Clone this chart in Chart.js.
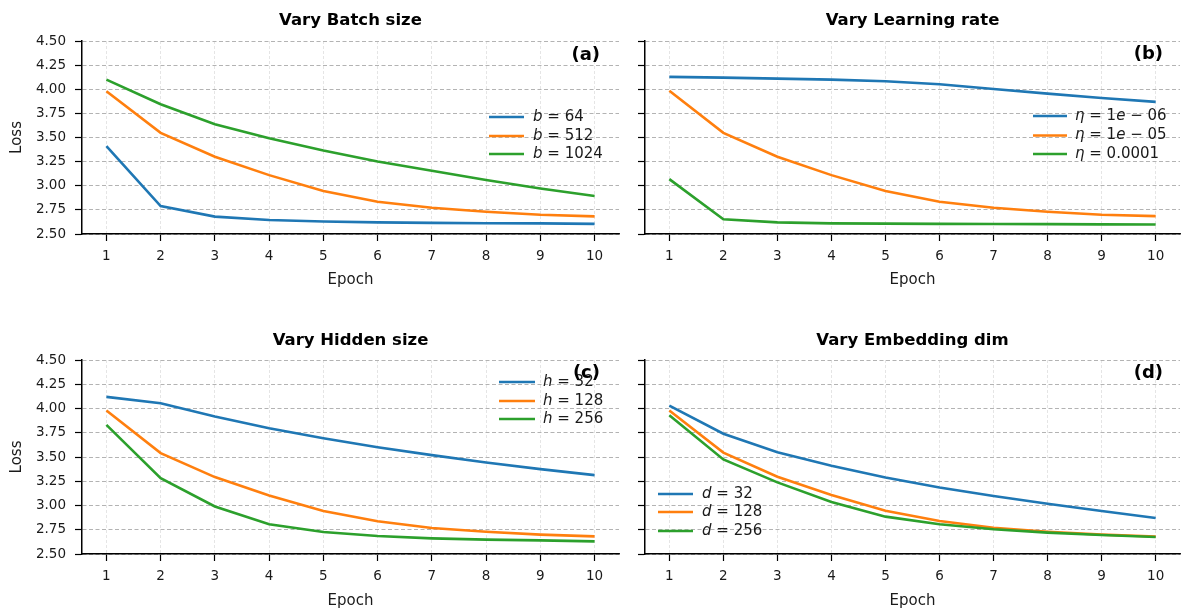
<!DOCTYPE html>
<html>
<head>
<meta charset="utf-8">
<script src="https://cdn.jsdelivr.net/npm/chart.js@4.4.1/dist/chart.umd.min.js"></script>
<style>
  html, body { margin: 0; padding: 0; background: #fff; }
  body { width: 1181px; height: 614px; position: relative; overflow: hidden; }
  canvas { position: absolute; }
</style>
</head>
<body>
<canvas id="pa"></canvas>
<canvas id="pb"></canvas>
<canvas id="pc"></canvas>
<canvas id="pd"></canvas>
<script>
const epochs = [1, 2, 3, 4, 5, 6, 7, 8, 9, 10];
const lossTicks = [2.5, 2.75, 3.0, 3.25, 3.5, 3.75, 4.0, 4.25, 4.5];

// (a) batch size
const batchLabels = ["b = 64", "b = 512", "b = 1024"];
const batch64 = [3.41, 2.79, 2.68, 2.645, 2.63, 2.62, 2.615, 2.612, 2.61, 2.605];
const batch512 = [3.98, 3.548, 3.30, 3.11, 2.945, 2.834, 2.772, 2.73, 2.70, 2.683];
const batch1024 = [4.10, 3.845, 3.638, 3.493, 3.366, 3.252, 3.155, 3.059, 2.972, 2.893];

// (b) learning rate
const lrLabels = ["η = 1e − 06", "η = 1e − 05", "η = 0.0001"];
const lr1e6 = [4.128, 4.12, 4.11, 4.10, 4.083, 4.052, 4.003, 3.955, 3.91, 3.869];
const lr1e5 = [3.985, 3.548, 3.30, 3.11, 2.945, 2.834, 2.772, 2.73, 2.70, 2.685];
const lr1e4 = [3.069, 2.652, 2.62, 2.61, 2.607, 2.605, 2.604, 2.602, 2.60, 2.598];

// (c) hidden size
const hiddenLabels = ["h = 32", "h = 128", "h = 256"];
const hidden32 = [4.12, 4.054, 3.917, 3.797, 3.694, 3.601, 3.519, 3.443, 3.375, 3.313];
const hidden128 = [3.979, 3.54, 3.293, 3.104, 2.943, 2.837, 2.768, 2.73, 2.70, 2.682];
const hidden256 = [3.831, 3.282, 2.99, 2.806, 2.726, 2.685, 2.661, 2.648, 2.64, 2.63];

// (d) embedding dim
const embLabels = ["d = 32", "d = 128", "d = 256"];
const emb32 = [4.03, 3.74, 3.55, 3.41, 3.289, 3.186, 3.097, 3.018, 2.943, 2.871];
const emb128 = [3.98, 3.545, 3.297, 3.108, 2.945, 2.84, 2.77, 2.73, 2.70, 2.68];
const emb256 = [3.93, 3.475, 3.238, 3.036, 2.885, 2.806, 2.755, 2.72, 2.696, 2.676];

const COLORS = ["#1f77b4", "#ff7f0e", "#2ca02c"];
const FONT = '"DejaVu Sans", sans-serif';
const TEXT = "#1a1a1a";

// letters in italic, the rest upright (like matplotlib mathtext)
function drawMathLabel(ctx, text, x, y) {
  const parts = text.match(/[A-Za-z\u0370-\u03ff]+|[^A-Za-z\u0370-\u03ff]+/g);
  ctx.textBaseline = "middle";
  ctx.textAlign = "left";
  ctx.fillStyle = TEXT;
  for (const p of parts) {
    const ital = /[A-Za-z\u0370-\u03ff]/.test(p);
    ctx.font = (ital ? "italic " : "") + "15px " + FONT;
    ctx.fillText(p, x, y);
    x += ctx.measureText(p).width;
  }
}

function makePanel(cfg) {
  const canvas = document.getElementById(cfg.id);
  canvas.width = cfg.w;
  canvas.height = cfg.h;
  canvas.style.left = cfg.x + "px";
  canvas.style.top = cfg.y + "px";

  const titleLH = 16.5 * 1.2;
  const titlePadTop = cfg.titleY - cfg.y - titleLH / 2;
  const titlePadBottom = cfg.plotTop - cfg.y - titlePadTop - titleLH;
  const yAxisWidth = cfg.plotLeft - cfg.x;
  const xAxisHeight = cfg.y + cfg.h - cfg.plotBottom;
  const epochPad = cfg.y + cfg.h - cfg.epochY - (15 * 1.2) / 2;

  const overlay = {
    id: "overlay",
    afterDatasetsDraw(chart) {
      const ctx = chart.ctx;
      ctx.save();
      const lg = cfg.legend;
      cfg.labels.forEach((lab, i) => {
        const ly = lg.ys[i] - cfg.y;
        ctx.strokeStyle = COLORS[i];
        ctx.lineWidth = 2.5;
        ctx.beginPath();
        ctx.moveTo(lg.x0 - cfg.x, ly);
        ctx.lineTo(lg.x1 - cfg.x, ly);
        ctx.stroke();
        drawMathLabel(ctx, lab, lg.tx - cfg.x, ly);
      });
      ctx.font = "bold 18px " + FONT;
      ctx.fillStyle = "#000";
      ctx.textAlign = "right";
      ctx.textBaseline = "middle";
      ctx.fillText(cfg.tag, cfg.tagX - cfg.x, cfg.tagY - cfg.y);
      ctx.restore();
    }
  };

  return new Chart(canvas, {
    type: "line",
    data: {
      datasets: cfg.series.map((s, i) => ({
        label: cfg.labels[i],
        data: epochs.map((e, j) => ({ x: e, y: s[j] })),
        borderColor: COLORS[i],
        borderWidth: 2.6,
        pointRadius: 0,
        tension: 0,
        fill: false,
        order: 2 - i
      }))
    },
    options: {
      responsive: false,
      animation: false,
      devicePixelRatio: 1,
      layout: { padding: { left: 0, top: 0, bottom: 0, right: cfg.x + cfg.w - cfg.plotRight } },
      plugins: {
        legend: { display: false },
        tooltip: { enabled: false },
        title: {
          display: true,
          fullSize: false,
          text: cfg.title,
          color: "#000",
          font: { family: FONT, size: 16.5, weight: "bold" },
          padding: { top: titlePadTop, bottom: titlePadBottom }
        }
      },
      scales: {
        x: {
          type: "linear",
          min: 0.55,
          max: 10.45,
          afterBuildTicks: (s) => { s.ticks = epochs.map((v) => ({ value: v })); },
          afterFit: (s) => { s.height = xAxisHeight; s.paddingLeft = 0; s.paddingRight = 0; },
          ticks: {
            autoSkip: false,
            maxRotation: 0,
            padding: 7,
            color: TEXT,
            font: { family: FONT, size: 13.5 },
            callback: (v) => String(v)
          },
          grid: { color: "#dedede", lineWidth: 0.8, tickLength: 7, tickColor: "#000", tickWidth: 1.2 },
          border: { color: "#000", width: 1.5, dash: [3, 2] },
          title: {
            display: true,
            text: "Epoch",
            color: TEXT,
            font: { family: FONT, size: 15 },
            padding: { top: 0, bottom: epochPad }
          }
        },
        y: {
          min: 2.5,
          max: 4.5,
          afterBuildTicks: (s) => { s.ticks = lossTicks.map((v) => ({ value: v })); },
          afterFit: (s) => { s.width = yAxisWidth; s.paddingTop = 0; s.paddingBottom = 0; },
          ticks: {
            display: cfg.showY,
            padding: 9,
            color: TEXT,
            font: { family: FONT, size: 13.5 },
            callback: (v) => Number(v).toFixed(2)
          },
          grid: { color: "#b3b3b3", lineWidth: 1, tickLength: 7, tickColor: "#000", tickWidth: 1.2 },
          border: { color: "#000", width: 1.5, dash: [4, 2.5] },
          title: {
            display: cfg.showY,
            text: "Loss",
            color: TEXT,
            font: { family: FONT, size: 15 },
            padding: { top: 8, bottom: 0 }
          }
        }
      }
    },
    plugins: [overlay]
  });
}

makePanel({
  id: "pa", x: 0, y: 0, w: 630, h: 300,
  plotLeft: 82, plotRight: 619, plotTop: 41, plotBottom: 234,
  titleY: 20.7, epochY: 280, showY: true,
  title: "Vary Batch size", tag: "(a)", tagX: 600, tagY: 55,
  series: [batch64, batch512, batch1024], labels: batchLabels,
  legend: { x0: 489, x1: 524, tx: 533, ys: [117, 136, 154] }
});

makePanel({
  id: "pb", x: 630, y: 0, w: 551, h: 300,
  plotLeft: 645, plotRight: 1180, plotTop: 41, plotBottom: 234,
  titleY: 20.7, epochY: 280, showY: false,
  title: "Vary Learning rate", tag: "(b)", tagX: 1163, tagY: 54,
  series: [lr1e6, lr1e5, lr1e4], labels: lrLabels,
  legend: { x0: 1033, x1: 1067, tx: 1075, ys: [116, 135.5, 154] }
});

makePanel({
  id: "pc", x: 0, y: 300, w: 630, h: 314,
  plotLeft: 82, plotRight: 619, plotTop: 360, plotBottom: 554,
  titleY: 340.7, epochY: 600.7, showY: true,
  title: "Vary Hidden size", tag: "(c)", tagX: 600, tagY: 373,
  series: [hidden32, hidden128, hidden256], labels: hiddenLabels,
  legend: { x0: 499, x1: 535, tx: 543, ys: [382, 401, 419] }
});

makePanel({
  id: "pd", x: 630, y: 300, w: 551, h: 314,
  plotLeft: 645, plotRight: 1180, plotTop: 360, plotBottom: 554,
  titleY: 340.7, epochY: 600.7, showY: false,
  title: "Vary Embedding dim", tag: "(d)", tagX: 1163, tagY: 373,
  series: [emb32, emb128, emb256], labels: embLabels,
  legend: { x0: 658, x1: 693, tx: 702, ys: [494, 512, 531] }
});
</script>
</body>
</html>
